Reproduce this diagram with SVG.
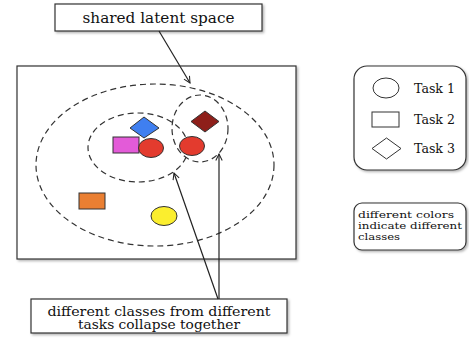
<svg xmlns="http://www.w3.org/2000/svg" width="469" height="339" viewBox="0 0 469 339">
<defs>
<marker id="arr" viewBox="0 0 10 10" refX="9" refY="5" markerWidth="8" markerHeight="8" orient="auto" markerUnits="userSpaceOnUse">
<path d="M1,1 L9,5 L1,9" fill="none" stroke="#222" stroke-width="1.3"/>
</marker>
<filter id="sh" x="-10%" y="-10%" width="130%" height="140%"><feDropShadow dx="1.5" dy="1.5" stdDeviation="1" flood-color="#000" flood-opacity="0.3"/></filter>
</defs>
<style>
.box{fill:#fff;stroke:#333;stroke-width:1.2}
.dash{fill:none;stroke:#333;stroke-width:1.2;stroke-dasharray:6 4}
.lbl{font-family:'DejaVu Serif',serif;fill:#111}
.sh{stroke:#333;stroke-width:1}
.con{stroke:#222;stroke-width:1.2;fill:none}
</style>
<rect width="469" height="339" fill="#fff"/>
<g id="space">
<rect class="box" x="17" y="66" width="279" height="193" filter="url(#sh)"/>
<ellipse class="dash" cx="155" cy="165" rx="119" ry="81"/>
<ellipse class="dash" cx="138" cy="147.5" rx="50" ry="34.5"/>
<ellipse class="dash" cx="200" cy="128.5" rx="28" ry="33.5"/>
<polygon class="sh" points="130,128 144,117 159,128 144,138" fill="#3f7ff0"/>
<rect class="sh" x="113" y="137" width="26" height="16" fill="#e35bd8"/>
<ellipse class="sh" cx="151" cy="148" rx="12.5" ry="9.5" fill="#e33b2e"/>
<ellipse class="sh" cx="192" cy="146" rx="12.5" ry="9.5" fill="#e33b2e"/>
<polygon class="sh" points="191,121.5 205,111 219,121.5 205,132" fill="#8e1f1a"/>
<rect class="sh" x="79" y="193" width="26" height="16" fill="#ea7f32"/>
<ellipse class="sh" cx="164" cy="216" rx="13" ry="9.5" fill="#fbee2e"/>
</g>
<g id="shared-label">
<rect class="box" x="55" y="4" width="207" height="27" filter="url(#sh)"/>
<text class="lbl" x="158.5" y="23" font-size="15" text-anchor="middle" textLength="152" lengthAdjust="spacingAndGlyphs">shared latent space</text>
</g>
<g id="collapse-label">
<rect class="box" x="31" y="299" width="256" height="34" filter="url(#sh)"/>
<text class="lbl" x="159" y="315.5" font-size="12.5" text-anchor="middle" textLength="223" lengthAdjust="spacingAndGlyphs">different classes from different</text>
<text class="lbl" x="159" y="329" font-size="12.5" text-anchor="middle" textLength="162" lengthAdjust="spacingAndGlyphs">tasks collapse together</text>
</g>
<g id="legend">
<rect class="box" x="354" y="66" width="112" height="104" rx="13" filter="url(#sh)"/>
<ellipse cx="386" cy="88" rx="13" ry="10" fill="#fff" stroke="#333" stroke-width="1"/>
<text class="lbl" x="414" y="93" font-size="12.5" textLength="41" lengthAdjust="spacingAndGlyphs">Task 1</text>
<rect x="372" y="112" width="27" height="15" fill="#fff" stroke="#333" stroke-width="1"/>
<text class="lbl" x="414" y="124" font-size="12.5" textLength="41" lengthAdjust="spacingAndGlyphs">Task 2</text>
<polygon points="372,148.5 386.5,138 401,148.5 386.5,159" fill="#fff" stroke="#333" stroke-width="1"/>
<text class="lbl" x="414" y="153" font-size="12.5" textLength="41" lengthAdjust="spacingAndGlyphs">Task 3</text>
</g>
<g id="colors-note">
<rect class="box" x="354" y="203" width="112" height="47" rx="8" filter="url(#sh)"/>
<text class="lbl" x="358" y="218" font-size="10" textLength="96" lengthAdjust="spacingAndGlyphs">different colors</text>
<text class="lbl" x="358" y="229" font-size="10" textLength="104" lengthAdjust="spacingAndGlyphs">indicate different</text>
<text class="lbl" x="358" y="240" font-size="10" textLength="42" lengthAdjust="spacingAndGlyphs">classes</text>
</g>
<g id="connectors">
<line class="con" x1="159" y1="31" x2="190" y2="83" marker-end="url(#arr)"/>
<line class="con" x1="218" y1="299" x2="174" y2="173" marker-end="url(#arr)"/>
<line class="con" x1="219" y1="299" x2="219" y2="154" marker-end="url(#arr)"/>
</g>
</svg>
